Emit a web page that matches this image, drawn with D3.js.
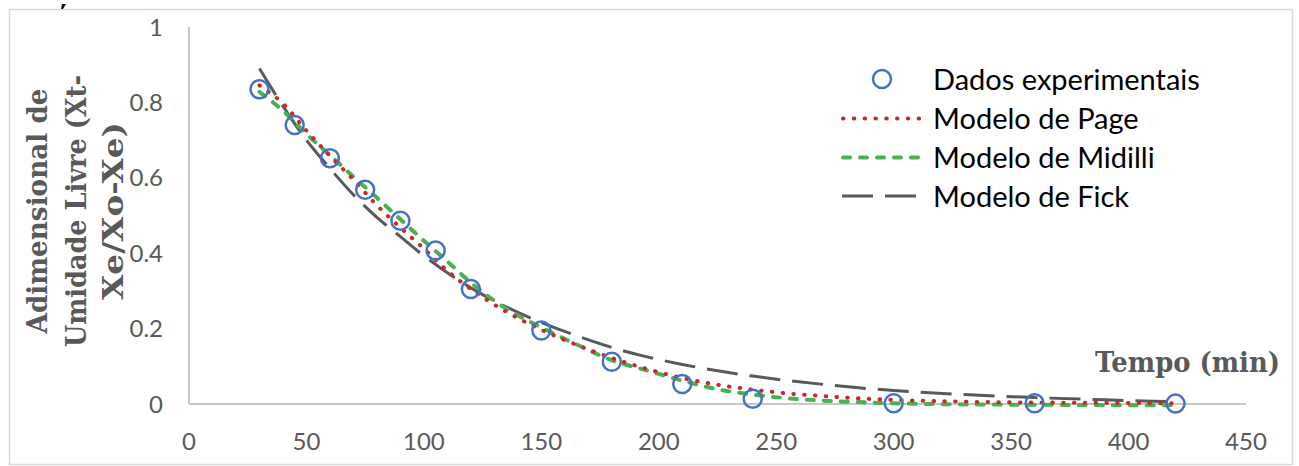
<!DOCTYPE html>
<html>
<head>
<meta charset="utf-8">
<script src="https://cdn.jsdelivr.net/npm/d3@7"></script>
<style>
  html, body { margin: 0; padding: 0; background: #fff; }
  svg { display: block; }
</style>
</head>
<body>
<div id="chart"></div>
<script>
// Dados experimentais (razão de umidade vs tempo)
const tempo = [30, 45, 60, 75, 90, 105, 120, 150, 180, 210, 240, 300, 360, 420];
const dados = [0.835, 0.740, 0.652, 0.568, 0.486, 0.407, 0.305, 0.195, 0.112, 0.053, 0.014, 0.002, 0.002, 0.001];

// Curvas dos modelos
const tempoModelo = [30, 40, 50, 60, 70, 80, 90, 100, 110, 120, 135, 150, 165, 180, 195, 210, 225, 240, 255, 270, 285, 300, 330, 360, 390, 420];
const page    = [0.845, 0.797, 0.725, 0.658, 0.595, 0.527, 0.468, 0.412, 0.353, 0.305, 0.245, 0.197, 0.157, 0.122, 0.093, 0.069, 0.051, 0.038, 0.028, 0.021, 0.015, 0.011, 0.006, 0.004, 0.003, 0.002];
const midilli = [0.828, 0.778, 0.716, 0.660, 0.603, 0.547, 0.490, 0.433, 0.378, 0.322, 0.253, 0.203, 0.158, 0.116, 0.089, 0.062, 0.039, 0.025, 0.015, 0.009, 0.005, 0.002, -0.001, -0.002, -0.003, -0.003];
const fick    = [0.890, 0.790, 0.700, 0.625, 0.555, 0.495, 0.444, 0.393, 0.348, 0.308, 0.258, 0.216, 0.181, 0.150, 0.125, 0.105, 0.088, 0.074, 0.062, 0.052, 0.043, 0.036, 0.025, 0.017, 0.011, 0.006];

const xTicks = [0, 50, 100, 150, 200, 250, 300, 350, 400, 450];
const yTicks = [0, 0.2, 0.4, 0.6, 0.8, 1];

const legendLabels = ['Dados experimentais', 'Modelo de Page', 'Modelo de Midilli', 'Modelo de Fick'];

const width = 1299, height = 466;
const sansFont = 'Lato, "Noto Sans", sans-serif';
const serifFont = '"DejaVu Serif", "Liberation Serif", serif';

const svg = d3.select('#chart').append('svg')
  .attr('width', width)
  .attr('height', height);

svg.append('rect').attr('width', width).attr('height', height).attr('fill', '#fff');

// Chart frame
svg.append('rect')
  .attr('x', 9.5).attr('y', 9.5)
  .attr('width', 1283).attr('height', 455)
  .attr('fill', 'none')
  .attr('stroke', '#d9d9d9')
  .attr('stroke-width', 1.5);

// small stray mark at the top
svg.append('path')
  .attr('d', 'M62,4 L66,4 L63,9 L61,9 Z')
  .attr('fill', '#111');

const x = d3.scaleLinear().domain([0, 450]).range([189, 1246]);
const y = d3.scaleLinear().domain([0, 1]).range([404, 27]);

// Axes lines
svg.append('line')
  .attr('x1', x(0)).attr('x2', x(450))
  .attr('y1', y(0)).attr('y2', y(0))
  .attr('stroke', '#c8c8c8').attr('stroke-width', 2);
svg.append('line')
  .attr('x1', x(0)).attr('x2', x(0))
  .attr('y1', y(0)).attr('y2', y(1))
  .attr('stroke', '#c8c8c8').attr('stroke-width', 2);

// Tick labels
svg.append('g')
  .selectAll('text')
  .data(xTicks)
  .join('text')
  .attr('x', d => x(d))
  .attr('y', 450)
  .attr('text-anchor', 'middle')
  .attr('font-family', sansFont)
  .attr('font-size', 24)
  .attr('fill', '#595959')
  .text(d => d);

svg.append('g')
  .selectAll('text')
  .data(yTicks)
  .join('text')
  .attr('x', 163)
  .attr('y', d => y(d) + 8.5)
  .attr('text-anchor', 'end')
  .attr('font-family', sansFont)
  .attr('font-size', 24)
  .attr('fill', '#595959')
  .text(d => d);

// Axis titles
const yTitle = ['Adimensional de', 'Umidade Livre (Xt-', 'Xe/Xo-Xe)'];
const yTitleX = [47, 86, 123];
const yTitleLen = [245, 272, 178];
svg.append('g')
  .selectAll('text')
  .data(yTitle)
  .join('text')
  .attr('transform', (d, i) => `translate(${yTitleX[i]},211) rotate(-90)`)
  .attr('text-anchor', 'middle')
  .attr('font-family', serifFont)
  .attr('font-weight', 'bold')
  .attr('font-size', 27)
  .attr('textLength', (d, i) => yTitleLen[i])
  .attr('lengthAdjust', 'spacingAndGlyphs')
  .attr('fill', '#595959')
  .text(d => d);

svg.append('text')
  .attr('x', 1280)
  .attr('y', 372)
  .attr('text-anchor', 'end')
  .attr('font-family', serifFont)
  .attr('font-weight', 'bold')
  .attr('font-size', 27)
  .attr('textLength', 185)
  .attr('lengthAdjust', 'spacingAndGlyphs')
  .attr('fill', '#595959')
  .text('Tempo (min)');

// Model curves
const line = d3.line()
  .x(d => x(d[0]))
  .y(d => y(d[1]))
  .curve(d3.curveMonotoneX);

const styles = [
  { values: fick,    color: '#595959', width: 3,   dash: '31 12', cap: 'butt' },
  { values: midilli, color: '#4caf50', width: 4,   dash: '7 10',  cap: 'round' },
  { values: page,    color: '#c8282a', width: 4,   dash: '0.5 10.3', cap: 'round' }
];

svg.append('g')
  .selectAll('path')
  .data(styles)
  .join('path')
  .attr('d', s => line(tempoModelo.map((t, i) => [t, s.values[i]])))
  .attr('fill', 'none')
  .attr('stroke', s => s.color)
  .attr('stroke-width', s => s.width)
  .attr('stroke-dasharray', s => s.dash)
  .attr('stroke-linecap', s => s.cap);

// Experimental points
svg.append('g')
  .selectAll('circle')
  .data(tempo.map((t, i) => [t, dados[i]]))
  .join('circle')
  .attr('cx', d => x(d[0]))
  .attr('cy', d => y(d[1]))
  .attr('r', 9)
  .attr('fill', 'none')
  .attr('stroke', '#4472c4')
  .attr('stroke-width', 2.5);

// Legend
const legendY = [79, 118.5, 157.5, 196];
const legend = svg.append('g');

legend.append('circle')
  .attr('cx', 882).attr('cy', legendY[0]).attr('r', 9)
  .attr('fill', 'none').attr('stroke', '#4472c4').attr('stroke-width', 2.5);

[2, 1, 0].forEach((si, k) => {
  const s = styles[si];
  legend.append('line')
    .attr('x1', si === 0 ? 842 : 843).attr('x2', si === 0 ? 917 : 921)
    .attr('y1', legendY[k + 1]).attr('y2', legendY[k + 1])
    .attr('stroke', s.color)
    .attr('stroke-width', s.width)
    .attr('stroke-dasharray', s.dash)
    .attr('stroke-linecap', s.cap);
});

legend.selectAll('text')
  .data(legendLabels)
  .join('text')
  .attr('x', 933)
  .attr('y', (d, i) => legendY[i] + 10.5)
  .attr('font-family', sansFont)
  .attr('font-size', 29)
  .attr('fill', '#000')
  .text(d => d);
</script>
</body>
</html>
